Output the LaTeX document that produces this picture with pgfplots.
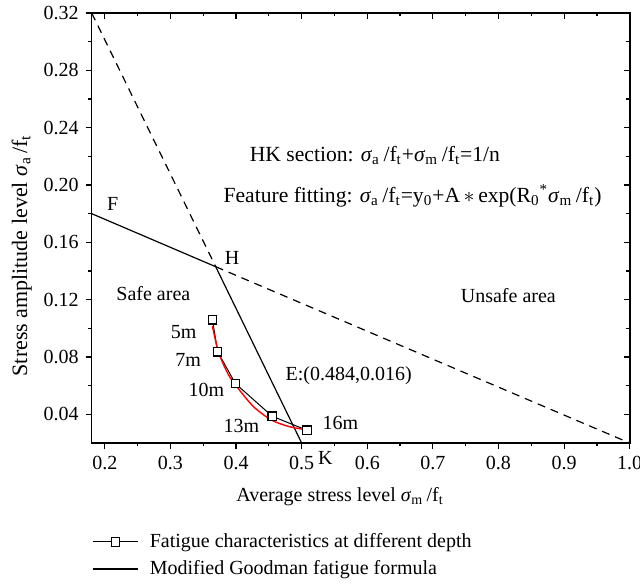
\documentclass[border=0pt]{standalone}
\usepackage{fontspec}
\setmainfont{Liberation Serif}
\usepackage{pgfplots}
\pgfplotsset{compat=1.18}
\newcommand{\sg}[1]{\textit{σ}\textsubscript{#1}}
\newcommand{\ft}{f\textsubscript{t}}

\begin{document}
\begin{tikzpicture}
\begin{axis}[
  scale only axis,
  width=269pt, height=215pt,
  xmin=0.18, xmax=1.0, ymin=0.02, ymax=0.32,
  xtick={0.2,0.3,0.4,0.5,0.6,0.7,0.8,0.9,1.0},
  ytick={0.04,0.08,0.12,0.16,0.20,0.24,0.28,0.32},
  minor x tick num=1, minor y tick num=1,
  xtick pos=left, ytick pos=left, tick align=outside,
  major tick length=3pt, minor tick length=1.7pt,
  axis line style={line width=0.8pt},
  every tick/.style={black, line width=0.6pt},
  /pgf/number format/assume math mode=true,
  xticklabel style={/pgf/number format/.cd, fixed, fixed zerofill, precision=1},
  yticklabel style={/pgf/number format/.cd, fixed, fixed zerofill, precision=2},
  xlabel={Average stress level \sg{m}\,/\ft},
  ylabel={\fontsize{11}{13}\selectfont Stress amplitude level \sg{a}\,/\ft},
  xlabel style={at={(axis description cs:0.4615,-0.1256)}, anchor=center},
  ylabel style={at={(axis description cs:-0.130,0.436)}, anchor=center},
  clip=false,
  legend cell align=left,
  legend style={at={(0,0)}, anchor=north west, yshift=-43pt, draw=none, fill=none,
    inner sep=0pt, row sep=1pt},
  legend image code/.code={\draw[mark repeat=2,mark phase=2,#1]
    plot coordinates {(0cm,0cm) (0.4cm,0cm) (0.8cm,0cm)};},
]
% fatigue characteristics at different depth
\addplot[black, line width=0.5pt, mark=square*, mark size=2.1pt,
  mark options={fill=white, line width=0.6pt}]
  coordinates {(0.364,0.106) (0.372,0.0836) (0.399,0.0615) (0.455,0.0387) (0.508,0.0289)};
\addlegendentry{\hspace*{3.5pt}Fatigue characteristics at different depth}
% modified Goodman line F-H-K
\addplot[black, line width=0.6pt] coordinates {(0.18,0.18) (0.369,0.143) (0.5,0.02)};
\addlegendentry{\hspace*{3.5pt}Modified Goodman fatigue formula}
% dashed continuations
\addplot[black, line width=0.6pt, dash pattern=on 4pt off 3pt, forget plot]
  coordinates {(0.18,0.32) (0.369,0.143)};
\addplot[black, line width=0.6pt, dash pattern=on 4pt off 3pt, forget plot]
  coordinates {(0.369,0.143) (1.0,0.02)};
% fitted curve
\addplot[red, line width=0.7pt, smooth, forget plot]
  coordinates {(0.364,0.1015) (0.370,0.089) (0.376,0.080) (0.388,0.068) (0.4015,0.0591)
    (0.427,0.0452) (0.455,0.0358) (0.483,0.0312) (0.5055,0.0294)};
% squares on top
\addplot[only marks, black, mark=square*, mark size=2.1pt,
  mark options={fill=white, line width=0.6pt}, forget plot]
  coordinates {(0.364,0.106) (0.372,0.0836) (0.399,0.0615) (0.455,0.0387) (0.508,0.0289)};

\node at (axis cs:0.212,0.187) {F};
\node at (axis cs:0.394,0.1494) {H};
\node at (axis cs:0.536,0.0094) {K};
\node at (axis cs:0.274,0.1245) {Safe area};
\node at (axis cs:0.815,0.123) {Unsafe area};
\node[font=\fontsize{10.8}{13}\selectfont] at (axis cs:0.6117,0.2205)
  {HK section: \sg{a}\,/\ft+\sg{m}\,/\ft=1/n};
\node[font=\fontsize{10.8}{13}\selectfont] at (axis cs:0.669,0.1925)
  {Feature fitting: \sg{a}\,/\ft=y\textsubscript{0}+A\,$\ast$\,exp(R\textsubscript{0}\textsuperscript{*}\sg{m}\,/\ft)};
\node[anchor=west, inner sep=0pt] at (axis cs:0.475,0.0673) {E:(0.484,0.016)};
\node at (axis cs:0.320,0.0973) {5m};
\node at (axis cs:0.327,0.0778) {7m};
\node at (axis cs:0.355,0.0568) {10m};
\node at (axis cs:0.408,0.0317) {13m};
\node at (axis cs:0.559,0.0338) {16m};
\end{axis}
% mirrored ticks on top and right, pointing inward
\begin{axis}[
  scale only axis,
  width=269pt, height=215pt,
  xmin=0.18, xmax=1.0, ymin=0.02, ymax=0.32,
  xtick={0.2,0.3,0.4,0.5,0.6,0.7,0.8,0.9,1.0},
  ytick={0.04,0.08,0.12,0.16,0.20,0.24,0.28,0.32},
  minor x tick num=1, minor y tick num=1,
  xtick pos=right, ytick pos=right, tick align=inside,
  major tick length=3pt, minor tick length=1.7pt,
  axis line style={line width=0.8pt},
  every tick/.style={black, line width=0.6pt},
  xticklabels={}, yticklabels={},
]
\end{axis}
\pgfresetboundingbox
\path (-45.85pt,-70.5pt) rectangle (274.15pt,221.5pt);
\end{tikzpicture}
\end{document}
